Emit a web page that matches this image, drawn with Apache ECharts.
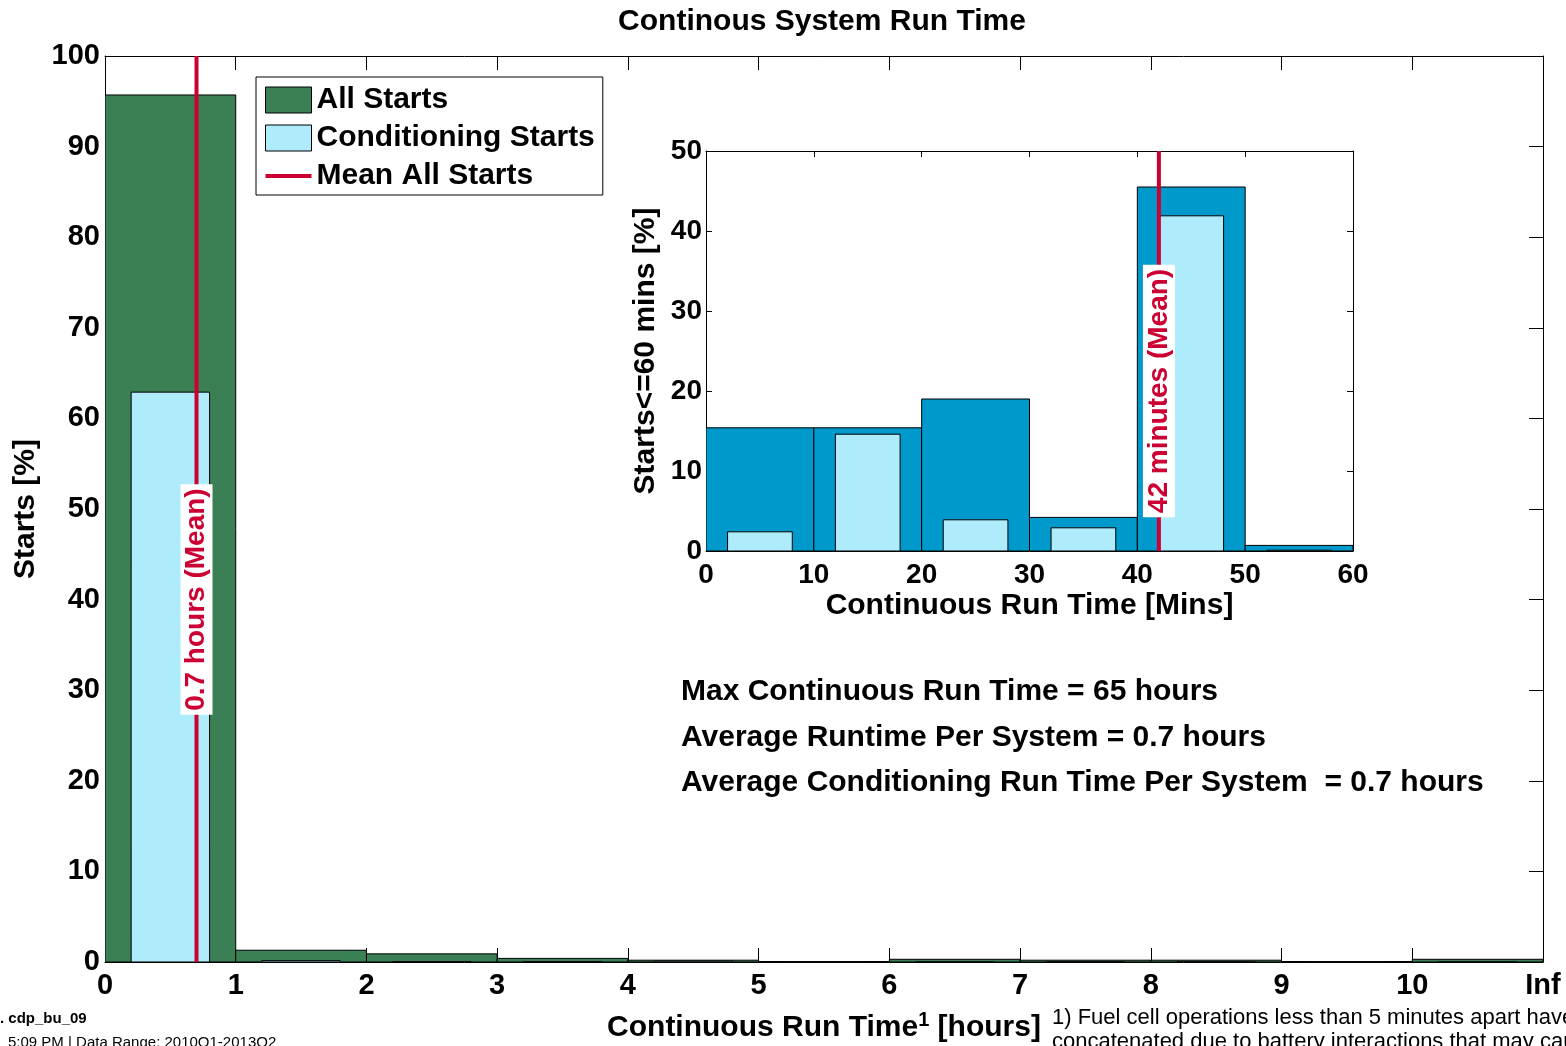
<!DOCTYPE html>
<html>
<head>
<meta charset="utf-8">
<script src="https://cdn.jsdelivr.net/npm/echarts@6/dist/echarts.min.js"></script>
<style>
html,body{margin:0;padding:0;background:#fff;}
#chart{width:1566px;height:1046px;}
</style>
</head>
<body>
<div id="chart"></div>
<script>
// ---------- data ----------
var hourBinStarts = [0, 1, 2, 3, 4, 5, 6, 7, 8, 9, 10];
var hourBinWidth = 1;
var allStartsHours = [95.7, 1.3, 0.9, 0.4, 0.2, 0.05, 0.3, 0.2, 0.2, 0.05, 0.3];
var condStartsHours = [62.9, 0.15, 0.05, 0.05, 0.1, 0.03, 0.02, 0.02, 0.02, 0.02, 0.02];
var hourTickLabels = ['0', '1', '2', '3', '4', '5', '6', '7', '8', '9', '10', 'Inf'];
var meanHours = 0.7;

var minBinStarts = [0, 10, 20, 30, 40, 50];
var minBinWidth = 10;
var allStartsMins = [15.4, 15.4, 19.0, 4.2, 45.5, 0.7];
var condStartsMins = [2.4, 14.6, 3.9, 2.9, 41.9, 0.1];
var meanMins = 42;

var FONT = 'Liberation Sans, Arial, sans-serif';
var GREEN = '#3b8055';
var LIGHT = '#aeebfb';
var BLUE = '#0099cc';
var RED = '#cc0033';

function binData(starts, width, vals, offA, offB) {
  return starts.map(function (s, i) { return [s + width * offA, s + width * offB, vals[i]]; });
}

function rectItem(params, api) {
  var p0 = api.coord([api.value(0), api.value(2)]);
  var p1 = api.coord([api.value(1), 0]);
  return {
    type: 'rect',
    shape: { x: p0[0], y: p0[1], width: p1[0] - p0[0], height: p1[1] - p0[1] },
    style: { fill: api.visual('color'), stroke: '#000', lineWidth: 1 }
  };
}

function vLineItem(params, api) {
  var p0 = api.coord([api.value(0), api.value(1)]);
  var p1 = api.coord([api.value(0), api.value(2)]);
  return {
    type: 'line',
    shape: { x1: p0[0], y1: p0[1], x2: p1[0], y2: p1[1] },
    style: { stroke: RED, lineWidth: 4 }
  };
}

function meanLabelItem(text) {
  return function (params, api) {
    var p = api.coord([api.value(0), api.value(1)]);
    return {
      type: 'text', x: p[0], y: p[1], rotation: Math.PI / 2, z2: 100,
      style: {
        text: text, fill: RED, font: 'bold 28px ' + FONT,
        align: 'center', verticalAlign: 'middle',
        backgroundColor: '#fff', padding: [3, 4, 1, 4]
      }
    };
  };
}

var lblStyle = { color: '#000', fontFamily: FONT, fontWeight: 'bold', fontSize: 29 };
var nameStyle = { color: '#000', fontFamily: FONT, fontWeight: 'bold', fontSize: 30 };
var axLine = { show: true, onZero: false, lineStyle: { color: '#000', width: 1 } };

function mirrorX(grid, min, max, interval, len) {
  return { gridIndex: grid, type: 'value', position: 'top', min: min, max: max, interval: interval,
    axisLine: axLine, axisTick: { show: true, inside: true, length: len, lineStyle: { color: '#000' } },
    axisLabel: { show: false }, splitLine: { show: false } };
}
function mirrorY(grid, min, max, interval, len) {
  return { gridIndex: grid, type: 'value', position: 'right', min: min, max: max, interval: interval,
    axisLine: axLine, axisTick: { show: true, inside: true, length: len, lineStyle: { color: '#000' } },
    axisLabel: { show: false }, splitLine: { show: false } };
}

var chart = echarts.init(document.getElementById('chart'), null, { renderer: 'canvas' });
var option = {
  animation: false,
  backgroundColor: '#fff',
  grid: [
    { left: 105, top: 56, width: 1438, height: 906, outerBoundsMode: 'none', containLabel: false },
    { left: 706, top: 151, width: 647, height: 400, outerBoundsMode: 'none', containLabel: false }
  ],
  legend: {
    orient: 'vertical', left: 256, top: 77,
    backgroundColor: '#fff',
    borderColor: '#000', borderWidth: 1,
    padding: [8, 8, 4, 9],
    itemGap: 8, itemWidth: 46, itemHeight: 26,
    textStyle: { color: '#000', fontFamily: FONT, fontWeight: 'bold', fontSize: 30, lineHeight: 30 },
    data: [
      { name: 'All Starts', icon: 'rect', itemStyle: { borderColor: '#000', borderWidth: 1 } },
      { name: 'Conditioning Starts', icon: 'rect', itemStyle: { borderColor: '#000', borderWidth: 1 } },
      { name: 'Mean All Starts', icon: 'path://M0,0L0,0ZM0,11L46,11L46,15L0,15ZM46,26L46,26Z',
        itemStyle: { color: RED, borderWidth: 0 } }
    ]
  },
  xAxis: [
    { gridIndex: 0, type: 'value', min: 0, max: 11, interval: 1,
      axisLine: axLine,
      axisTick: { show: true, inside: true, length: 14, lineStyle: { color: '#000' } },
      axisLabel: Object.assign({ margin: 9, formatter: function (v) { return hourTickLabels[Math.round(v)]; } }, lblStyle),
      splitLine: { show: false },
      name: 'Continuous Run Time{sup|1} [hours]', nameLocation: 'middle', nameGap: 48,
      nameTextStyle: Object.assign({ rich: { sup: { fontFamily: FONT, fontWeight: 'bold', fontSize: 20, color: '#000', padding: [0, 0, 16, 0] } } }, nameStyle)
    },
    mirrorX(0, 0, 11, 1, 14),
    { gridIndex: 1, type: 'value', min: 0, max: 60, interval: 10,
      axisLine: axLine,
      axisTick: { show: true, inside: true, length: 6, lineStyle: { color: '#000' } },
      axisLabel: Object.assign({ margin: 10 }, lblStyle, { fontSize: 28 }),
      splitLine: { show: false },
      name: 'Continuous Run Time [Mins]', nameLocation: 'middle', nameGap: 40,
      nameTextStyle: nameStyle
    },
    mirrorX(1, 0, 60, 10, 6)
  ],
  yAxis: [
    { gridIndex: 0, type: 'value', min: 0, max: 100, interval: 10,
      axisLine: axLine,
      axisTick: { show: true, inside: true, length: 14, lineStyle: { color: '#000' } },
      axisLabel: Object.assign({ margin: 5 }, lblStyle),
      splitLine: { show: false },
      name: 'Starts [%]', nameLocation: 'middle', nameGap: 58, nameRotate: 90,
      nameTextStyle: nameStyle
    },
    mirrorY(0, 0, 100, 10, 14),
    { gridIndex: 1, type: 'value', min: 0, max: 50, interval: 10,
      axisLine: axLine,
      axisTick: { show: true, inside: true, length: 6, lineStyle: { color: '#000' } },
      axisLabel: Object.assign({ margin: 4 }, lblStyle, { fontSize: 28 }),
      splitLine: { show: false },
      name: 'Starts<=60 mins [%]', nameLocation: 'middle', nameGap: 45, nameRotate: 90,
      nameTextStyle: nameStyle
    },
    mirrorY(1, 0, 50, 10, 6)
  ],
  series: [
    { type: 'custom', name: 'All Starts', xAxisIndex: 0, yAxisIndex: 0, color: GREEN,
      renderItem: rectItem, clip: true, encode: { x: [0, 1], y: 2 },
      data: binData(hourBinStarts, hourBinWidth, allStartsHours, 0, 1) },
    { type: 'custom', name: 'Conditioning Starts', xAxisIndex: 0, yAxisIndex: 0, color: LIGHT,
      renderItem: rectItem, clip: true, encode: { x: [0, 1], y: 2 },
      data: binData(hourBinStarts, hourBinWidth, condStartsHours, 0.2, 0.8) },
    { type: 'custom', name: 'Mean All Starts', xAxisIndex: 0, yAxisIndex: 0, color: RED, z: 3,
      renderItem: vLineItem, encode: { x: 0, y: [1, 2] },
      data: [[meanHours, 0, 100]] },
    { type: 'custom', name: 'meanLabelHours', xAxisIndex: 0, yAxisIndex: 0, z: 4,
      renderItem: meanLabelItem(meanHours + ' hours (Mean)'),
      data: [[meanHours, 40]] },

    { type: 'custom', name: 'All Starts <=60', xAxisIndex: 2, yAxisIndex: 2, color: BLUE, z: 6,
      renderItem: rectItem, clip: true, encode: { x: [0, 1], y: 2 },
      data: binData(minBinStarts, minBinWidth, allStartsMins, 0, 1) },
    { type: 'custom', name: 'Conditioning Starts <=60', xAxisIndex: 2, yAxisIndex: 2, color: LIGHT, z: 6,
      renderItem: rectItem, clip: true, encode: { x: [0, 1], y: 2 },
      data: binData(minBinStarts, minBinWidth, condStartsMins, 0.2, 0.8) },
    { type: 'custom', name: 'Mean <=60', xAxisIndex: 2, yAxisIndex: 2, color: RED, z: 7,
      renderItem: vLineItem, encode: { x: 0, y: [1, 2] },
      data: [[meanMins, 0, 50]] },
    { type: 'custom', name: 'meanLabelMins', xAxisIndex: 2, yAxisIndex: 2, z: 8,
      renderItem: meanLabelItem(meanMins + ' minutes (Mean)'),
      data: [[meanMins, 20]] }
  ],
  graphic: [
    { type: 'text', x: 822, y: 22, z: 100,
      style: { text: 'Continous System Run Time', fill: '#000', font: 'bold 30px ' + FONT, align: 'center', verticalAlign: 'middle' } },
    { type: 'text', x: 681, y: 692, z: 100,
      style: { text: 'Max Continuous Run Time = 65 hours', fill: '#000', font: 'bold 30px ' + FONT, verticalAlign: 'middle' } },
    { type: 'text', x: 681, y: 738, z: 100,
      style: { text: 'Average Runtime Per System = 0.7 hours', fill: '#000', font: 'bold 30px ' + FONT, verticalAlign: 'middle' } },
    { type: 'text', x: 681, y: 783, z: 100,
      style: { text: 'Average Conditioning Run Time Per System  = 0.7 hours', fill: '#000', font: 'bold 30px ' + FONT, verticalAlign: 'middle' } },
    { type: 'text', x: 1052, y: 1018, z: 100,
      style: { text: '1) Fuel cell operations less than 5 minutes apart have been', fill: '#000', font: '22px ' + FONT, verticalAlign: 'middle' } },
    { type: 'text', x: 1052, y: 1042, z: 100,
      style: { text: 'concatenated due to battery interactions that may cause shutdowns', fill: '#000', font: '22px ' + FONT, verticalAlign: 'middle' } },
    { type: 'text', x: 0, y: 1019, z: 100,
      style: { text: '. cdp_bu_09', fill: '#000', font: 'bold 15px ' + FONT, verticalAlign: 'middle' } },
    { type: 'text', x: 8, y: 1043, z: 100,
      style: { text: '5:09 PM | Data Range: 2010Q1-2013Q2', fill: '#000', font: '15px ' + FONT, verticalAlign: 'middle' } }
  ]
};
chart.setOption(option);
</script>
</body>
</html>
